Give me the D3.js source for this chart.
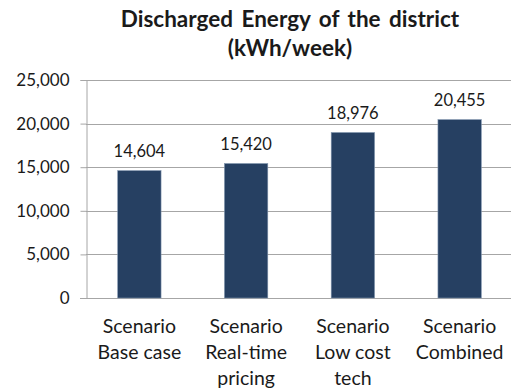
<!DOCTYPE html>
<html>
<head>
<meta charset="utf-8">
<script src="https://cdn.jsdelivr.net/npm/d3@7"></script>
<style>
  html, body { margin: 0; padding: 0; background: #fff; }
  svg { display: block; font-family: Lato, "Open Sans", sans-serif; }
</style>
</head>
<body>
<svg id="chart" width="511" height="392"></svg>
<script>
// Scenario labels (each line of a label is a separate entry)
const categories = [
  ["Scenario", "Base case"],
  ["Scenario", "Real-time", "pricing"],
  ["Scenario", "Low cost", "tech"],
  ["Scenario", "Combined"]
];
// Discharged energy per scenario, kWh/week
const values = [14604, 15420, 18976, 20455];
// Y axis ticks
const yTicks = [0, 5000, 10000, 15000, 20000, 25000];
const titleLines = ["Discharged Energy of the district", "(kWh/week)"];

const svg = d3.select("#chart");
const margin = { top: 80, right: 0, bottom: 94, left: 86 };
const height = 392 - margin.top - margin.bottom;

const keys = categories.map((c, i) => i);
const x = d3.scaleBand().domain(keys).range([margin.left, margin.left + 427]).paddingInner(0.594).paddingOuter(0.297);
const y = d3.scaleLinear().domain([0, 25000]).range([margin.top + height, margin.top]);

const fmt = d3.format(",");
const textColor = "#1a1a1a";
const gridColor = "#a6a6a6";

// Title
svg.append("g").selectAll("text").data(titleLines).join("text")
  .attr("x", 290)
  .attr("y", (d, i) => 27 + i * 29)
  .attr("text-anchor", "middle")
  .attr("font-weight", "bold")
  .attr("font-size", 22.5)
  .attr("word-spacing", 3)
  .attr("fill", textColor)
  .text(d => d);

// Horizontal gridlines
svg.append("g").selectAll("line").data(yTicks.filter(t => t > 0)).join("line")
  .attr("x1", margin.left).attr("x2", 511)
  .attr("y1", d => Math.round(y(d)) + 0.5).attr("y2", d => Math.round(y(d)) + 0.5)
  .attr("stroke", gridColor).attr("stroke-width", 1);

// Y axis
const yAxis = svg.append("g")
  .attr("transform", `translate(${margin.left + 0.5},0)`)
  .call(d3.axisLeft(y).tickValues(yTicks).tickFormat(fmt).tickSize(6).tickPadding(11));
yAxis.select(".domain").attr("stroke", gridColor);
yAxis.selectAll(".tick line").attr("stroke", gridColor);
yAxis.selectAll(".tick text")
  .attr("font-size", 17).attr("font-family", "Lato, sans-serif").attr("fill", textColor);

// X axis baseline
svg.append("line")
  .attr("x1", margin.left - 6).attr("x2", 511)
  .attr("y1", Math.round(y(0)) + 0.5).attr("y2", Math.round(y(0)) + 0.5)
  .attr("stroke", gridColor);

// Bars
svg.append("g").selectAll("rect").data(values).join("rect")
  .attr("x", (d, i) => x(i))
  .attr("y", d => y(d))
  .attr("width", x.bandwidth())
  .attr("height", d => y(0) - y(d))
  .attr("fill", "#264062")
  .attr("stroke", "#7f93ad")
  .attr("stroke-width", 0.6);

// Value labels
svg.append("g").selectAll("text").data(values).join("text")
  .attr("x", (d, i) => x(i) + x.bandwidth() / 2)
  .attr("y", d => y(d) - 14)
  .attr("text-anchor", "middle")
  .attr("font-size", 16.5)
  .attr("fill", textColor)
  .text(d => fmt(d));

// Category labels
const catG = svg.append("g").selectAll("text").data(categories).join("text")
  .attr("text-anchor", "middle")
  .attr("font-size", 19.5)
  .attr("fill", textColor);
catG.selectAll("tspan").data((d, i) => d.map(line => ({ line, i }))).join("tspan")
  .attr("x", d => x(d.i) + x.bandwidth() / 2)
  .attr("y", (d, j) => 333 + j * 26)
  .text(d => d.line);
</script>
</body>
</html>
